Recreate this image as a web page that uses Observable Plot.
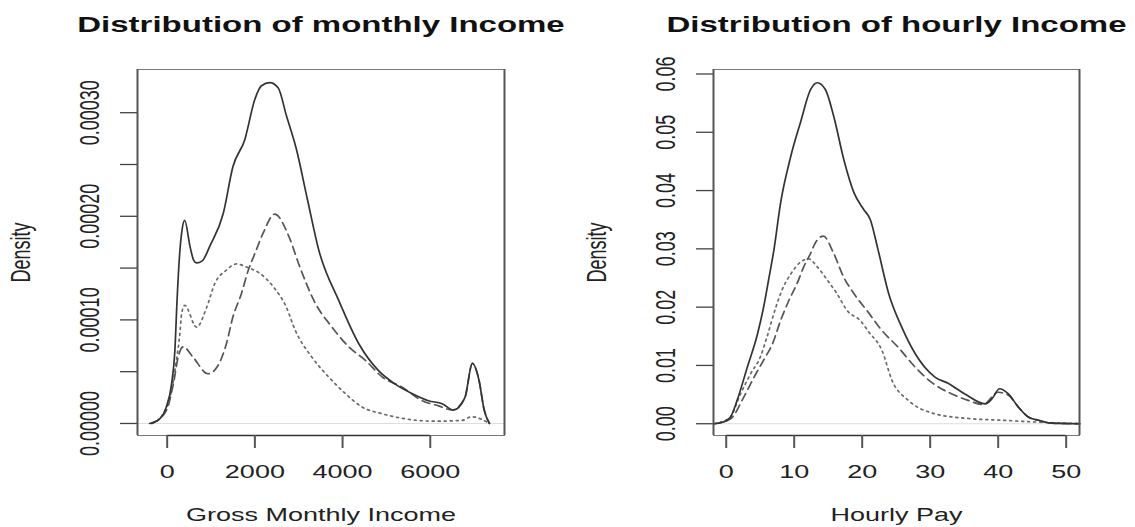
<!DOCTYPE html>
<html>
<head>
<meta charset="utf-8">
<script src="https://cdn.jsdelivr.net/npm/d3@7"></script>
<script src="https://cdn.jsdelivr.net/npm/@observablehq/plot@0.6"></script>
<style>
  html, body { margin: 0; padding: 0; background: #fff; overflow: hidden; }
  #chart { display: flex; width: 1135px; height: 527px; position: relative; }
  #chart svg { display: block; flex: 0 0 auto; max-width: none !important; overflow: visible; }
</style>
</head>
<body>
<div id="chart"></div>
<script>
// ---------- Panel 1: monthly income ----------
const monthlyTitle = "Distribution of monthly Income";
const monthlyXLabel = "Gross Monthly Income";
const monthlyXTicks = [0, 2000, 4000, 6000];
const monthlyYTicks = [0, 0.00005, 0.0001, 0.00015, 0.0002, 0.00025, 0.0003];
const monthlyYTickLabels = ["0.00000", "", "0.00010", "", "0.00020", "", "0.00030"];

const monthlySolidX = [-400, -170, -20, 100, 175, 225, 290, 330, 400, 520, 600, 670, 800, 970, 1280, 1500, 1770, 2000, 2150, 2340, 2530, 2720, 2940, 3200, 3460, 3910, 4370, 4820, 5200, 5580, 5960, 6270, 6530, 6790, 6960, 7110, 7230, 7350];
const monthlySolidY = [0, 0.0000045, 0.000016, 0.000038, 0.00007, 0.000119, 0.000167, 0.000184, 0.000196, 0.000171, 0.000158, 0.000155, 0.000157, 0.000171, 0.000203, 0.000248, 0.000274, 0.000313, 0.000326, 0.000329, 0.000324, 0.000297, 0.000266, 0.000216, 0.000167, 0.000119, 0.000077, 0.000051, 0.000038, 0.000029, 0.000022, 0.000019, 0.000013, 0.000025, 0.000058, 0.000042, 0.000013, 0];

const monthlyDashedX = [-350, -20, 140, 250, 364, 590, 930, 1160, 1350, 1500, 1690, 1850, 2000, 2190, 2450, 2800, 3000, 3380, 3760, 4140, 4520, 4900, 5360, 5810, 6190, 6500, 6790, 6960, 7110, 7230, 7350];
const monthlyDashedY = [0, 0.0000125, 0.000038, 0.000064, 0.000074, 0.000064, 0.000048, 0.000056, 0.000077, 0.000103, 0.000125, 0.000148, 0.000164, 0.000184, 0.000202, 0.000178, 0.000154, 0.000116, 0.000093, 0.000074, 0.000061, 0.000045, 0.000035, 0.000022, 0.000017, 0.000013, 0.000025, 0.000058, 0.000042, 0.000013, 0];

const monthlyDottedX = [-350, -90, 100, 210, 290, 330, 400, 670, 900, 1085, 1350, 1580, 1810, 2110, 2420, 2720, 2920, 3300, 3680, 4060, 4440, 4900, 5430, 6110, 6720, 6940, 7350];
const monthlyDottedY = [0, 0.0000094, 0.000032, 0.000061, 0.000087, 0.000106, 0.000114, 0.000093, 0.000112, 0.000135, 0.000148, 0.000154, 0.000151, 0.000145, 0.000132, 0.000112, 0.00009, 0.000064, 0.000045, 0.000029, 0.000016, 0.0000094, 0.0000045, 0.0000022, 0.0000029, 0.0000065, 0];

// ---------- Panel 2: hourly income ----------
const hourlyTitle = "Distribution of hourly Income";
const hourlyXLabel = "Hourly Pay";
const hourlyXTicks = [0, 10, 20, 30, 40, 50];
const hourlyYTicks = [0, 0.01, 0.02, 0.03, 0.04, 0.05, 0.06];
const hourlyYTickLabels = ["0.00", "0.01", "0.02", "0.03", "0.04", "0.05", "0.06"];

const hourlySolidX = [-1.8, -0.4, 0.6, 1.6, 3.1, 4.6, 5.5, 6.3, 7.0, 8.0, 9.5, 10.9, 12.4, 13.4, 14.6, 15.8, 17.3, 18.8, 20.2, 21.2, 22.3, 23.9, 25.8, 27.8, 30.7, 32.7, 35.1, 38.1, 39.1, 40.2, 41.5, 43.0, 44.5, 45.9, 47.8, 52];
const hourlySolidY = [0, 0.0003, 0.0011, 0.004, 0.0097, 0.0154, 0.02, 0.0251, 0.0297, 0.0379, 0.0459, 0.0516, 0.0573, 0.0585, 0.0573, 0.0528, 0.0453, 0.0396, 0.0368, 0.035, 0.030, 0.0223, 0.0166, 0.012, 0.008, 0.0069, 0.0051, 0.0034, 0.0043, 0.006, 0.0051, 0.0028, 0.0011, 0.0006, 0.0001, 0];

const hourlyDashedX = [-1.8, 0.6, 2.6, 4.1, 5.5, 6.8, 8.0, 9.2, 10.4, 11.4, 12.4, 13.1, 14.3, 15.7, 17.3, 18.8, 20.9, 22.9, 25.3, 27.8, 30.2, 33.2, 35.6, 37.8, 40.0, 41.5, 43.0, 44.5, 45.9, 47.8, 52];
const hourlyDashedY = [0, 0.0008, 0.0046, 0.008, 0.0109, 0.0137, 0.0177, 0.0211, 0.024, 0.0269, 0.0292, 0.031, 0.0322, 0.0295, 0.0251, 0.0223, 0.0191, 0.016, 0.0131, 0.0097, 0.0071, 0.0051, 0.004, 0.0033, 0.0054, 0.0049, 0.0028, 0.0011, 0.0006, 0.0001, 0];

const hourlyDottedX = [-1.8, 0.5, 2.1, 3.6, 5.0, 6.0, 7.3, 8.2, 9.5, 10.9, 12.1, 13.4, 14.9, 16.3, 17.8, 19.7, 21.0, 22.9, 24.4, 26.8, 30.7, 35.6, 40.5, 45.4, 52];
const hourlyDottedY = [0, 0.001, 0.0051, 0.0086, 0.0114, 0.0149, 0.02, 0.0229, 0.0257, 0.0277, 0.0283, 0.0269, 0.0246, 0.0223, 0.0194, 0.0177, 0.0157, 0.0126, 0.0074, 0.004, 0.0017, 0.0009, 0.0006, 0.0003, 0];

// ---------- helpers ----------
const FONT = "'Liberation Sans', Arial, Helvetica, sans-serif";
const STRETCH = 1.5; // horizontal text stretch seen in the reference

function rows(xs, ys) { return xs.map((x, i) => ({x, y: ys[i]})); }

function stretchText(svg, s) {
  svg.querySelectorAll("text").forEach((t) => {
    const tr = t.getAttribute("transform");
    if (tr && /translate\(/.test(tr)) {
      t.setAttribute("transform", tr.replace(/translate\(([^)]*)\)/, `translate($1) scale(${s},1)`));
    } else {
      const x = parseFloat(t.getAttribute("x")) || 0, y = parseFloat(t.getAttribute("y")) || 0;
      t.setAttribute("transform", `translate(${x},${y}) scale(${s},1) translate(${-x},${-y})`);
    }
  });
}

function panel(cfg) {
  const {width, marginLeft, marginRight, xDomain, yDomain, xTicks, yTicks, yLabels, title, xLabel, solid, dashed, dotted} = cfg;
  const fmtY = (d) => {
    const i = yTicks.findIndex((t) => Math.abs(t - d) < 1e-12);
    return i >= 0 ? yLabels[i] : "";
  };
  const svg = Plot.plot({
    width, height: 527,
    marginTop: 69, marginBottom: 92, marginLeft, marginRight,
    x: {domain: xDomain, label: null},
    y: {domain: yDomain, label: null},
    style: {fontFamily: FONT, fontSize: "18px", color: "#222", background: "transparent", overflow: "visible"},
    marks: [
      Plot.ruleY([0], {stroke: "#dedede", strokeWidth: 1}),
      Plot.line(dotted, {x: "x", y: "y", stroke: "#6a6a6a", strokeWidth: 1.7, strokeDasharray: "2,4", curve: "monotone-x"}),
      Plot.line(dashed, {x: "x", y: "y", stroke: "#555", strokeWidth: 1.7, strokeDasharray: "8,5", curve: "monotone-x"}),
      Plot.line(solid, {x: "x", y: "y", stroke: "#333", strokeWidth: 1.7, curve: "monotone-x"}),
      Plot.frame({stroke: "#777", strokeWidth: 1}),
      Plot.ruleX([xDomain[0], xDomain[1]], {stroke: "#555", strokeWidth: 2}),
      Plot.ruleY([yDomain[0]], {x1: xTicks[0], x2: xTicks[xTicks.length - 1], stroke: "#333", strokeWidth: 1.3}),
      Plot.axisX({ticks: xTicks, tickSize: 13, tickPadding: 17, tickFormat: (d) => String(d), stroke: "#555", strokeWidth: 2, fill: "#222", fontSize: 18, label: null}),
      Plot.axisY({ticks: yTicks, tickSize: 17, tickPadding: 22, tickRotate: -90, tickFormat: fmtY, stroke: "#444", strokeWidth: 1.3, fill: "#222", fontSize: 18, label: null}),
      Plot.text([title], {frameAnchor: "top", lineAnchor: "bottom", dy: -37.5, fontSize: 22, fontWeight: "bold", fill: "#111"}),
      Plot.text([xLabel], {frameAnchor: "bottom", lineAnchor: "bottom", dy: 85, fontSize: 18, fill: "#222"}),
      Plot.text(["Density"], {frameAnchor: "left", rotate: -90, textAnchor: "middle", lineAnchor: "bottom", dx: -108, fontSize: 18, fill: "#222"})
    ]
  });
  stretchText(svg, STRETCH);
  return svg;
}

const chart = document.getElementById("chart");
chart.append(panel({
  width: 567, marginLeft: 137, marginRight: 63,
  xDomain: [-677, 7693], yDomain: [-0.0000116, 0.0003417],
  xTicks: monthlyXTicks, yTicks: monthlyYTicks, yLabels: monthlyYTickLabels,
  title: monthlyTitle, xLabel: monthlyXLabel,
  solid: rows(monthlySolidX, monthlySolidY),
  dashed: rows(monthlyDashedX, monthlyDashedY),
  dotted: rows(monthlyDottedX, monthlyDottedY)
}));
chart.append(panel({
  width: 568, marginLeft: 146, marginRight: 56,
  xDomain: [-1.87, 51.96], yDomain: [-0.00202, 0.06077],
  xTicks: hourlyXTicks, yTicks: hourlyYTicks, yLabels: hourlyYTickLabels,
  title: hourlyTitle, xLabel: hourlyXLabel,
  solid: rows(hourlySolidX, hourlySolidY),
  dashed: rows(hourlyDashedX, hourlyDashedY),
  dotted: rows(hourlyDottedX, hourlyDottedY)
}));
</script>
</body>
</html>
